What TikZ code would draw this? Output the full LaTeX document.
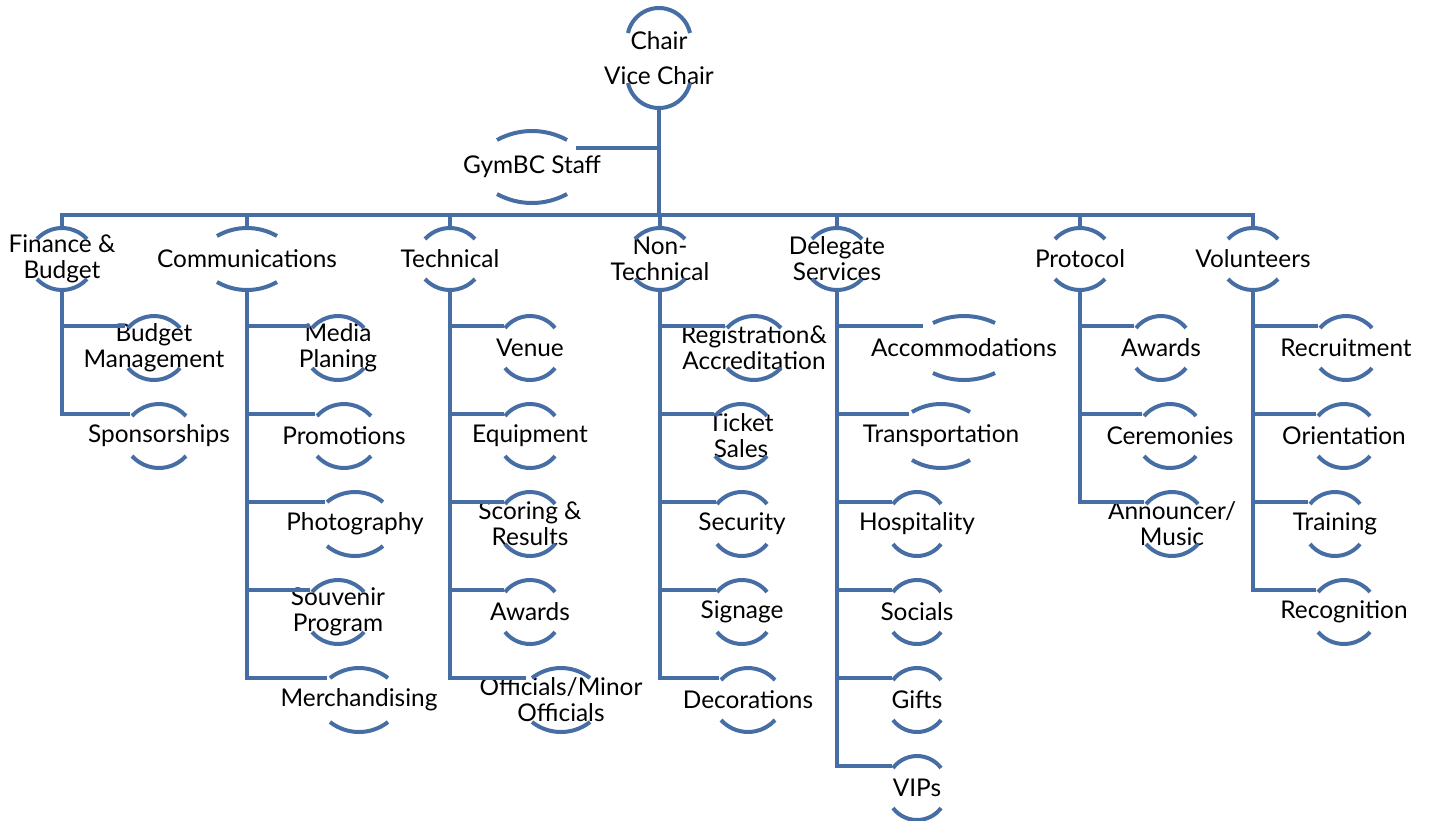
\documentclass[tikz,border=0pt]{standalone}
\usepackage{fontspec}
\setmainfont{Lato}
\usepackage{tikz}
\usetikzlibrary{calc}
\definecolor{gymBlue}{RGB}{70,110,165}

% arcs above and below a node: [apex offset], node, half width, sag (px)
\newcommand{\ringarcs}[4][32]{%
  \pgfmathsetmacro{\ringR}{((#3)*(#3)+(#4)*(#4))/(2*(#4))}%
  \pgfmathsetmacro{\ringA}{asin((#3)/\ringR)}%
  \pgfmathsetmacro{\ringRpt}{0.5*\ringR}%
  \draw[ring] ($(#2.center)+(-#3,-#1+#4)$) arc[start angle=90+\ringA, end angle=90-\ringA, radius=\ringRpt pt];
  \draw[ring] ($(#2.center)+(-#3,#1-#4)$) arc[start angle=270-\ringA, end angle=270+\ringA, radius=\ringRpt pt];
}

\begin{document}
\begin{tikzpicture}[
    x=0.5pt, y=-0.5pt,
    every node/.style={font=\fontsize{12.2}{13}\selectfont, align=center, inner sep=0pt},
    ring/.style={draw=gymBlue, line width=2pt},
    link/.style={draw=gymBlue, line width=2.4pt},
    ]
    \useasboundingbox (0,0) rectangle (1434,820);
    % Top
    \node (chair) at (659,58) {Chair\\[4.5pt]Vice Chair};
    \node (gym)   at (532,167) {GymBC Staff};
    \coordinate (bar) at (659,215);
    % Row 1
    \node (fin) at (62,259)   {Finance \&\\Budget};
    \node (com) at (247,259)  {Communications};
    \node (tec) at (450,259)  {Technical};
    \node (non) at (660,259)  {Non-\\Technical};
    \node (del) at (837,259)  {Delegate\\Services};
    \node (pro) at (1080,259) {Protocol};
    \node (vol) at (1253,259) {Volunteers};
    % Finance & Budget
    \node (bm)  at (154,348) {Budget\\Management};
    \node (spo) at (159,436) {Sponsorships};
    % Communications
    \node (med) at (338,348) {Media\\Planing};
    \node (prm) at (344,436) {Promotions};
    \node (pho) at (355,524) {Photography};
    \node (sou) at (338,612) {Souvenir\\Program};
    \node (mer) at (359,700) {Merchandising};
    % Technical
    \node (ven) at (530,348) {Venue};
    \node (equ) at (530,436) {Equipment};
    \node (sco) at (530,524) {Scoring \&\\Results};
    \node (awa) at (530,612) {Awards};
    \node (off) at (561,700) {Officials/Minor\\Officials};
    % Non-Technical
    \node (reg) at (754,348) {Registration\&\\Accreditation};
    \node (tic) at (741,436) {Ticket\\Sales};
    \node (sec) at (742,524) {Security};
    \node (sig) at (742,612) {Signage};
    \node (dec) at (748,700) {Decorations};
    % Delegate Services
    \node (acc) at (964,348) {Accommodations};
    \node (tra) at (941,436) {Transportation};
    \node (hos) at (917,524) {Hospitality};
    \node (soc) at (917,612) {Socials};
    \node (gif) at (917,700) {Gifts};
    \node (vip) at (917,788) {VIPs};
    % Protocol
    \node (paw) at (1161,348) {Awards};
    \node (cer) at (1170,436) {Ceremonies};
    \node (ann) at (1172,524) {Announcer/\\Music};
    % Volunteers
    \node (rec) at (1346,348) {Recruitment};
    \node (ori) at (1344,436) {Orientation};
    \node (trn) at (1335,524) {Training};
    \node (rcg) at (1344,612) {Recognition};

    % Arcs
    \ringarcs[50]{chair}{31}{25}
    \ringarcs[36]{gym}{35}{9}
    \ringarcs[31]{fin}{25}{11}
    \ringarcs[31]{com}{30}{8}
    \ringarcs[31]{tec}{25}{11}
    \ringarcs[31]{non}{25}{11}
    \ringarcs[31]{del}{25}{11}
    \ringarcs[31]{pro}{25}{11}
    \ringarcs[31]{vol}{25}{11}
    \ringarcs{bm}{26}{12}
    \ringarcs{spo}{27}{12}
    \ringarcs{med}{26}{12}
    \ringarcs{prm}{27}{12}
    \ringarcs{pho}{28}{10}
    \ringarcs{sou}{26}{12}
    \ringarcs{mer}{29}{10}
    \ringarcs{ven}{25}{12}
    \ringarcs{equ}{25}{12}
    \ringarcs{sco}{25}{12}
    \ringarcs{awa}{25}{12}
    \ringarcs{off}{29}{10}
    \ringarcs{reg}{27}{12}
    \ringarcs{tic}{26}{12}
    \ringarcs{sec}{25}{12}
    \ringarcs{sig}{25}{12}
    \ringarcs{dec}{27}{12}
    \ringarcs{acc}{31}{7}
    \ringarcs{tra}{29}{8}
    \ringarcs{hos}{24}{12}
    \ringarcs{soc}{24}{12}
    \ringarcs{gif}{24}{12}
    \ringarcs{vip}{24}{12}
    \ringarcs{paw}{25}{12}
    \ringarcs{cer}{26}{12}
    \ringarcs{ann}{26}{12}
    \ringarcs{rec}{26}{12}
    \ringarcs{ori}{26}{12}
    \ringarcs{trn}{25}{12}
    \ringarcs{rcg}{26}{12}

    % Trunk and bar
    \draw[link] ($(chair.center)+(0,50)$) -- (bar);
    \coordinate (gymR) at ($(gym.center)+(44,-19)$);
    \draw[link] (gymR) -- (gymR -| bar);
    \draw[link] (bar) -| ($(fin.center)+(0,-31)$);
    \draw[link] (bar) -| ($(com.center)+(0,-31)$);
    \draw[link] (bar) -| ($(tec.center)+(0,-31)$);
    \draw[link] (bar) -| ($(non.center)+(0,-31)$);
    \draw[link] (bar) -| ($(del.center)+(0,-31)$);
    \draw[link] (bar) -| ($(pro.center)+(0,-31)$);
    \draw[link] (bar) -| ($(vol.center)+(0,-31)$);
    % Branches
    \draw[link] ($(fin.center)+(0,32)$) |- ($(bm.center)+(-29,-22)$);
    \draw[link] ($(fin.center)+(0,32)$) |- ($(spo.center)+(-29,-22)$);
    \draw[link] ($(com.center)+(0,32)$) |- ($(med.center)+(-28,-22)$);
    \draw[link] ($(com.center)+(0,32)$) |- ($(prm.center)+(-29,-22)$);
    \draw[link] ($(com.center)+(0,32)$) |- ($(pho.center)+(-30,-22)$);
    \draw[link] ($(com.center)+(0,32)$) |- ($(sou.center)+(-28,-22)$);
    \draw[link] ($(com.center)+(0,32)$) |- ($(mer.center)+(-32,-22)$);
    \draw[link] ($(tec.center)+(0,32)$) |- ($(ven.center)+(-26,-22)$);
    \draw[link] ($(tec.center)+(0,32)$) |- ($(equ.center)+(-26,-22)$);
    \draw[link] ($(tec.center)+(0,32)$) |- ($(sco.center)+(-26,-22)$);
    \draw[link] ($(tec.center)+(0,32)$) |- ($(awa.center)+(-26,-22)$);
    \draw[link] ($(tec.center)+(0,32)$) |- ($(off.center)+(-35,-22)$);
    \draw[link] ($(non.center)+(0,32)$) |- ($(reg.center)+(-29,-22)$);
    \draw[link] ($(non.center)+(0,32)$) |- ($(tic.center)+(-27,-22)$);
    \draw[link] ($(non.center)+(0,32)$) |- ($(sec.center)+(-26,-22)$);
    \draw[link] ($(non.center)+(0,32)$) |- ($(sig.center)+(-26,-22)$);
    \draw[link] ($(non.center)+(0,32)$) |- ($(dec.center)+(-29,-22)$);
    \draw[link] ($(del.center)+(0,32)$) |- ($(acc.center)+(-41,-22)$);
    \draw[link] ($(del.center)+(0,32)$) |- ($(tra.center)+(-32,-22)$);
    \draw[link] ($(del.center)+(0,32)$) |- ($(hos.center)+(-25,-22)$);
    \draw[link] ($(del.center)+(0,32)$) |- ($(soc.center)+(-25,-22)$);
    \draw[link] ($(del.center)+(0,32)$) |- ($(gif.center)+(-25,-22)$);
    \draw[link] ($(del.center)+(0,32)$) |- ($(vip.center)+(-25,-22)$);
    \draw[link] ($(pro.center)+(0,32)$) |- ($(paw.center)+(-27,-22)$);
    \draw[link] ($(pro.center)+(0,32)$) |- ($(cer.center)+(-28,-22)$);
    \draw[link] ($(pro.center)+(0,32)$) |- ($(ann.center)+(-28,-22)$);
    \draw[link] ($(vol.center)+(0,32)$) |- ($(rec.center)+(-28,-22)$);
    \draw[link] ($(vol.center)+(0,32)$) |- ($(ori.center)+(-28,-22)$);
    \draw[link] ($(vol.center)+(0,32)$) |- ($(trn.center)+(-27,-22)$);
    \draw[link] ($(vol.center)+(0,32)$) |- ($(rcg.center)+(-28,-22)$);
\end{tikzpicture}
\end{document}
